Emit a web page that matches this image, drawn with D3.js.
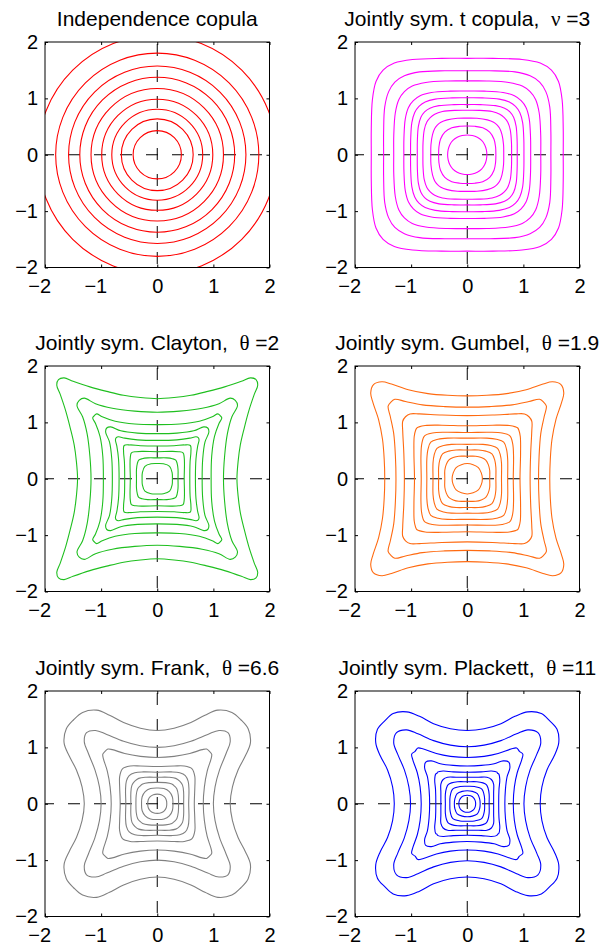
<!DOCTYPE html>
<html>
<head>
<meta charset="utf-8">
<script src="https://cdn.jsdelivr.net/npm/d3@7"></script>
<style>
  body { margin: 0; background: #fff; }
  svg { display: block; }
</style>
</head>
<body>
<svg id="chart" width="610" height="945"></svg>
<script>
// ---- data (contours are 8-fold symmetric, so only
// the first octant 0..45 deg is stored, as [x, y] points with y <= x) ----
const ticks = [-2, -1, 0, 1, 2];

const titles = [
  ["Independence copula", "", ""],
  ["Jointly sym. t copula,", "\u03bd", "=3"],
  ["Jointly sym. Clayton,", "\u03b8", "=2"],
  ["Jointly sym. Gumbel,", "\u03b8", "=1.9"],
  ["Jointly sym. Frank,", "\u03b8", "=6.6"],
  ["Jointly sym. Plackett,", "\u03b8", "=11"]
];

const colors = ["#ff0000", "#ff00ff", "#1fbf1f", "#ff6a10", "#808080", "#0000ff"];

// independence copula: circles
const indepRadii = [0.43, 0.64, 0.81, 0.99, 1.18, 1.38, 1.58, 1.81, 2.13];

const tContours = [
  [[0.35, 0], [0.34, 0.091], [0.31, 0.179], [0.256, 0.256]],
  [[0.51, 0], [0.505, 0.135], [0.477, 0.276], [0.40, 0.40]],
  [[0.65, 0], [0.647, 0.174], [0.619, 0.358], [0.577, 0.47], [0.53, 0.53]],
  [[0.79, 0], [0.788, 0.211], [0.766, 0.443], [0.72, 0.58], [0.66, 0.66]],
  [[0.89, 0], [0.889, 0.238], [0.871, 0.503], [0.826, 0.665], [0.76, 0.76]],
  [[1.01, 0], [1.008, 0.27], [0.987, 0.57], [0.936, 0.75], [0.86, 0.86]],
  [[1.13, 0], [1.128, 0.302], [1.104, 0.638], [1.047, 0.84], [0.96, 0.96]],
  [[1.31, 0], [1.309, 0.351], [1.282, 0.74], [1.218, 0.98], [1.12, 1.12]],
  [[1.49, 0], [1.49, 0.40], [1.47, 0.85], [1.40, 1.12], [1.29, 1.29]],
  [[1.71, 0], [1.71, 0.458], [1.69, 0.976], [1.626, 1.3], [1.50, 1.50]]
];

const claytonContours = [
  [[0.27, 0], [0.265, 0.11], [0.22, 0.22]],
  [[0.37, 0], [0.37, 0.17], [0.355, 0.27], [0.33, 0.33]],
  [[0.48, 0], [0.485, 0.25], [0.48, 0.38], [0.46, 0.46]],
  [[0.58, 0], [0.585, 0.3], [0.60, 0.48], [0.59, 0.59]],
  [[0.68, 0], [0.69, 0.35], [0.72, 0.58], [0.745, 0.69], [0.73, 0.73]],
  [[0.80, 0], [0.81, 0.35], [0.85, 0.65], [0.92, 0.83], [0.90, 0.90]],
  [[0.96, 0], [0.97, 0.4], [1.02, 0.75], [1.10, 0.98], [1.15, 1.08], [1.12, 1.12]],
  [[1.18, 0], [1.20, 0.4], [1.25, 0.8], [1.33, 1.1], [1.43, 1.30], [1.39, 1.39]],
  [[1.42, 0], [1.44, 0.3], [1.48, 0.6], [1.55, 0.9], [1.63, 1.2], [1.73, 1.5], [1.79, 1.66], [1.76, 1.76]]
];

const gumbelContours = [
  [[0.27, 0], [0.25, 0.105], [0.198, 0.198]],
  [[0.40, 0], [0.40, 0.15], [0.375, 0.25], [0.33, 0.33]],
  [[0.51, 0], [0.51, 0.2], [0.49, 0.33], [0.44, 0.44]],
  [[0.61, 0], [0.61, 0.28], [0.59, 0.42], [0.54, 0.54]],
  [[0.72, 0], [0.72, 0.35], [0.70, 0.52], [0.65, 0.65]],
  [[0.82, 0], [0.825, 0.4], [0.81, 0.62], [0.76, 0.76]],
  [[0.94, 0], [0.95, 0.45], [0.945, 0.75], [0.92, 0.86], [0.90, 0.90]],
  [[1.12, 0], [1.13, 0.45], [1.15, 0.85], [1.15, 1.02], [1.10, 1.10]],
  [[1.27, 0], [1.28, 0.4], [1.31, 0.8], [1.37, 1.1], [1.41, 1.29], [1.36, 1.36]],
  [[1.47, 0], [1.48, 0.35], [1.51, 0.7], [1.58, 1.05], [1.68, 1.35], [1.72, 1.52], [1.67, 1.67]]
];

const frankContours = [
  [[0.17, 0], [0.16, 0.07], [0.125, 0.125]],
  [[0.28, 0], [0.27, 0.12], [0.215, 0.215]],
  [[0.38, 0], [0.375, 0.15], [0.35, 0.26], [0.31, 0.31]],
  [[0.47, 0], [0.47, 0.2], [0.45, 0.33], [0.40, 0.40]],
  [[0.56, 0], [0.565, 0.25], [0.55, 0.40], [0.50, 0.50]],
  [[0.66, 0], [0.67, 0.3], [0.67, 0.48], [0.62, 0.62]],
  [[0.82, 0], [0.84, 0.3], [0.89, 0.58], [0.96, 0.8], [0.97, 0.88], [0.93, 0.93]],
  [[1.00, 0], [1.03, 0.3], [1.11, 0.6], [1.23, 0.9], [1.30, 1.1], [1.26, 1.26]],
  [[1.30, 0], [1.34, 0.3], [1.44, 0.6], [1.57, 0.85], [1.66, 1.08], [1.62, 1.33], [1.49, 1.49]]
];

const plackettContours = [
  [[0.15, 0], [0.14, 0.06], [0.11, 0.11]],
  [[0.23, 0], [0.22, 0.09], [0.18, 0.18]],
  [[0.31, 0], [0.305, 0.13], [0.26, 0.26]],
  [[0.39, 0], [0.39, 0.17], [0.37, 0.28], [0.34, 0.34]],
  [[0.47, 0], [0.47, 0.2], [0.47, 0.35], [0.43, 0.43]],
  [[0.56, 0], [0.565, 0.25], [0.58, 0.43], [0.56, 0.53], [0.54, 0.54]],
  [[0.67, 0], [0.68, 0.25], [0.71, 0.48], [0.76, 0.64], [0.74, 0.74]],
  [[0.82, 0], [0.84, 0.3], [0.89, 0.55], [0.97, 0.78], [0.99, 0.88], [0.93, 0.93]],
  [[1.01, 0], [1.04, 0.3], [1.12, 0.6], [1.24, 0.88], [1.31, 1.08], [1.26, 1.26]],
  [[1.30, 0], [1.33, 0.3], [1.42, 0.6], [1.55, 0.85], [1.63, 1.08], [1.60, 1.32], [1.47, 1.47]]
];

const panelContours = [null, tContours, claytonContours, gumbelContours, frankContours, plackettContours];

// ---- layout ----
const colLeft = [45, 355];
const rowTop = [42, 366, 691];
const W = 224.5, H = 225.5;

const svg = d3.select("#chart");
svg.append("rect").attr("width", 610).attr("height", 945).attr("fill", "#fff");

const x = d3.scaleLinear().domain([-2, 2]).range([0, W]);
const y = d3.scaleLinear().domain([-2, 2]).range([H, 0]);
const fmt = d3.format("d");

// mirror the octant points into a full closed loop, ordered by angle
function fullLoop(octant) {
  const pts = [];
  octant.forEach(([px, py]) => {
    [[px, py], [py, px]].forEach(([a, b]) => {
      [[a, b], [-a, b], [a, -b], [-a, -b]].forEach(p => {
        p.ang = (Math.atan2(p[1], p[0]) + 2 * Math.PI) % (2 * Math.PI);
        pts.push(p);
      });
    });
  });
  pts.sort((a, b) => a.ang - b.ang);
  const out = [];
  pts.forEach(p => {
    if (!out.length || p.ang - out[out.length - 1].ang > 1e-6) out.push(p);
  });
  if (out.length > 1 && out[0].ang + 2 * Math.PI - out[out.length - 1].ang < 1e-6) out.pop();
  return out;
}

const contourLine = d3.line()
  .x(d => x(d[0]))
  .y(d => y(d[1]))
  .curve(d3.curveCatmullRomClosed.alpha(0.5));

titles.forEach((t, i) => {
  const col = i % 2, row = Math.floor(i / 2);
  const g = svg.append("g")
    .attr("transform", `translate(${colLeft[col]},${rowTop[row]})`);

  g.append("clipPath").attr("id", "clip" + i)
    .append("rect").attr("width", W).attr("height", H);

  // dashed zero lines
  g.append("line")
    .attr("x1", x(-2)).attr("x2", x(2)).attr("y1", y(0)).attr("y2", y(0))
    .attr("stroke", "#000").attr("stroke-width", 1)
    .attr("stroke-dasharray", "12,14").attr("stroke-dashoffset", 3);
  g.append("line")
    .attr("x1", x(0)).attr("x2", x(0)).attr("y1", y(2)).attr("y2", y(-2))
    .attr("stroke", "#000").attr("stroke-width", 1)
    .attr("stroke-dasharray", "12,14").attr("stroke-dashoffset", 24);

  const plot = g.append("g").attr("clip-path", `url(#clip${i})`);

  if (i === 0) {
    plot.selectAll("circle")
      .data(indepRadii)
      .join("circle")
      .attr("cx", x(0)).attr("cy", y(0))
      .attr("r", d => x(d) - x(0))
      .attr("fill", "none")
      .attr("stroke", colors[i])
      .attr("stroke-width", 1.1);
  } else {
    plot.selectAll("path")
      .data(panelContours[i])
      .join("path")
      .attr("d", d => contourLine(fullLoop(d)))
      .attr("fill", "none")
      .attr("stroke", colors[i])
      .attr("stroke-width", 1.1);
  }

  // box and inward ticks on all four sides
  g.append("rect")
    .attr("width", W).attr("height", H)
    .attr("fill", "none").attr("stroke", "#000").attr("stroke-width", 1);

  const styleAxis = a => {
    a.select(".domain").remove();
    a.attr("font-family", null).attr("font-size", null);
    a.selectAll("line").attr("stroke", "#000");
    a.selectAll("text")
      .attr("fill", "#000")
      .style("font-family", "'Liberation Sans', Arial, Helvetica, sans-serif")
      .style("font-size", "20px");
  };

  g.append("g")
    .attr("transform", `translate(0,${H})`)
    .call(d3.axisBottom(x).tickValues(ticks).tickFormat(fmt).tickSizeInner(-3).tickSizeOuter(0).tickPadding(11.5))
    .call(styleAxis)
    .call(a => a.selectAll("text").attr("text-anchor", "end").attr("x", 5.6));

  g.append("g")
    .call(d3.axisLeft(y).tickValues(ticks).tickFormat(fmt).tickSizeInner(-3).tickSizeOuter(0).tickPadding(7))
    .call(styleAxis);

  g.append("g")
    .call(d3.axisTop(x).tickValues(ticks).tickSizeInner(-3).tickSizeOuter(0).tickFormat(() => ""))
    .call(styleAxis);

  g.append("g")
    .attr("transform", `translate(${W},0)`)
    .call(d3.axisRight(y).tickValues(ticks).tickSizeInner(-3).tickSizeOuter(0).tickFormat(() => ""))
    .call(styleAxis);

  // title
  const title = g.append("text")
    .attr("x", W / 2)
    .attr("y", -16)
    .attr("text-anchor", "middle")
    .style("font-family", "'Liberation Sans', Arial, Helvetica, sans-serif")
    .style("font-size", "21px")
    .style("white-space", "pre")
    .attr("fill", "#000");
  title.append("tspan").text(t[0]);
  if (t[1]) {
    title.append("tspan").text("\u00a0\u00a0");
    title.append("tspan")
      .style("font-family", "'Liberation Serif', 'DejaVu Serif', serif")
      .text(t[1]);
    title.append("tspan").text("\u00a0" + t[2]);
  }
});
</script>
</body>
</html>
